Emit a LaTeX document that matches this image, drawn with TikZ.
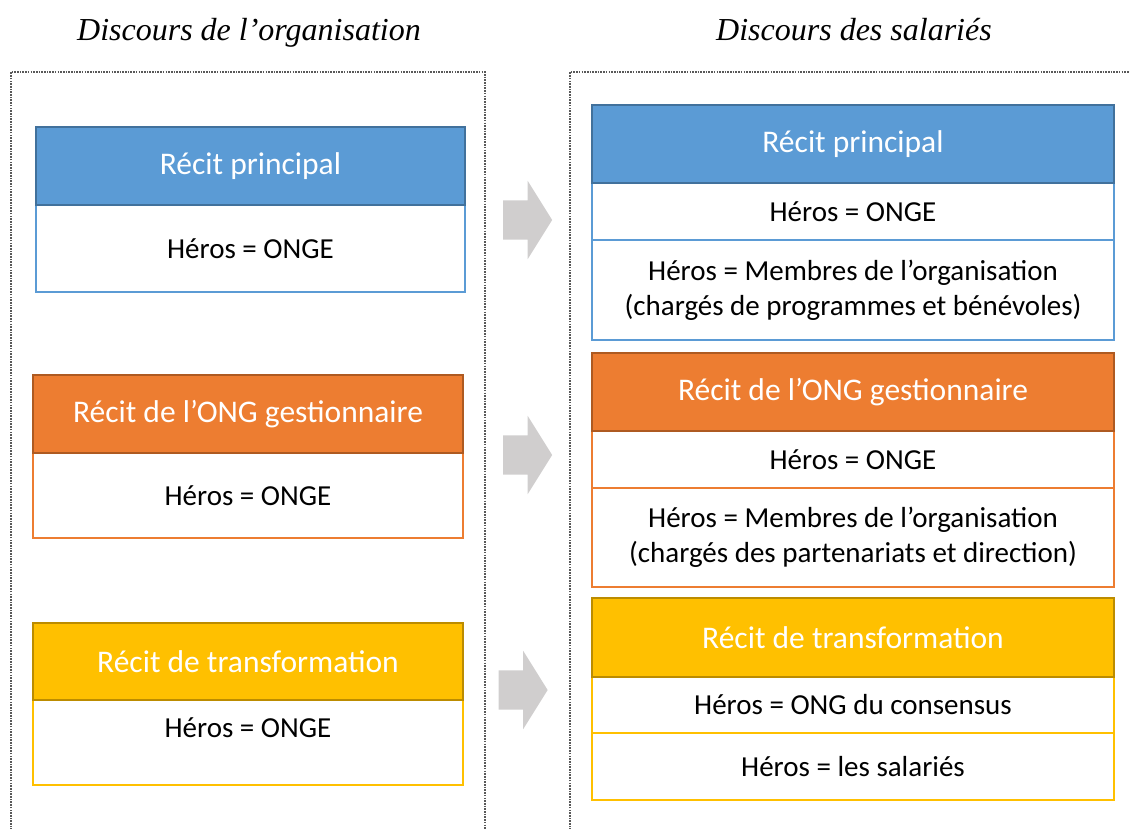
\documentclass[tikz,border=0pt]{standalone}
\usepackage{fontspec}
\setmainfont{Carlito}
\newfontfamily\titlefont{Liberation Serif}
\usetikzlibrary{shapes.arrows}

\definecolor{bleu}{HTML}{5B9BD5}
\definecolor{bleuf}{HTML}{41719C}
\definecolor{orange}{HTML}{ED7D31}
\definecolor{orangef}{HTML}{AE5A21}
\definecolor{jaune}{HTML}{FFC000}
\definecolor{jaunef}{HTML}{BC8C00}
\definecolor{gris}{HTML}{D0CECE}

\tikzset{
	titre/.style = {font=\titlefont\itshape\fontsize{32}{36}\selectfont, anchor=base},
	cadre/.style = {gray!70!black, line width=1.4pt, dash pattern=on 1.6pt off 1.1pt},
	entete/.style = {draw=#1f, fill=#1, line width=2.5pt, text=white, inner sep=0pt,
		font=\fontsize{31.5}{36}\selectfont},
	corps/.style = {draw=#1, line width=1.8pt, fill=white, inner sep=0pt, align=center,
		font=\fontsize{29}{35}\selectfont},
	fleche/.style = {single arrow, fill=gris, inner xsep=0pt, inner ysep=19.5pt,
		minimum height=49pt, single arrow head extend=19.5pt,
		single arrow tip angle=116, single arrow head indent=0pt}
}

\begin{document}
\begin{tikzpicture}[x=1pt, y=-1pt]
	\useasboundingbox (0,0) rectangle (1130,828);

	% titres
	\node[titre] (t1) at (249,40) {Discours de l’organisation};
	\node[titre] (t2) at (854,40) {Discours des salariés};

	% cadres pointilles
	\draw[cadre] (11,830) -- (11,72) -- (485,72) -- (485,830);
	\draw[cadre] (570,830) -- (570,72) -- (1132,72);

	% discours de l'organisation
	\node[corps=bleu, minimum width=429pt, minimum height=87pt] (lb1) at (250.5,248.5) {Héros = ONGE};
	\node[entete=bleu, minimum width=429pt, minimum height=78pt] (lb) at (250.5,166) {Récit principal};

	\node[corps=orange, minimum width=430pt, minimum height=85pt] (lo1) at (248,495.5) {Héros = ONGE};
	\node[entete=orange, minimum width=430pt, minimum height=78pt] (lo) at (248,414) {Récit de l’ONG gestionnaire};

	\node[corps=jaune, minimum width=430pt, minimum height=85pt] (lj1) at (248,742.5) {};
	\node[font=\fontsize{29}{35}\selectfont] (lj1t) at (248,728) {Héros = ONGE};
	\node[entete=jaune, minimum width=430pt, minimum height=77pt] (lj) at (248,661.5) {Récit de transformation};

	% discours des salaries
	\node[corps=bleu, minimum width=522pt, minimum height=57pt] (rb1) at (853,211.5) {Héros = ONGE};
	\node[corps=bleu, minimum width=522pt, minimum height=100pt] (rb2) at (853,290)
		{Héros = Membres de l’organisation\\(chargés de programmes et bénévoles)};
	\node[entete=bleu, minimum width=522pt, minimum height=78pt] (rb) at (853,144) {Récit principal};

	\node[corps=orange, minimum width=522pt, minimum height=57pt] (ro1) at (853,459.5) {Héros = ONGE};
	\node[corps=orange, minimum width=522pt, minimum height=99pt] (ro2) at (853,537.5)
		{Héros = Membres de l’organisation\\(chargés des partenariats et direction)};
	\node[entete=orange, minimum width=522pt, minimum height=78pt] (ro) at (853,392) {Récit de l’ONG gestionnaire};

	\node[corps=jaune, minimum width=522pt, minimum height=56pt] (rj1) at (853,705) {Héros = ONG du consensus};
	\node[corps=jaune, minimum width=522pt, minimum height=67pt] (rj2) at (853,766.5) {Héros = les salariés};
	\node[entete=jaune, minimum width=522pt, minimum height=79pt] (rj) at (853,637.5) {Récit de transformation};

	% fleches
	\node[fleche] (f1) at (521.5,220) {};
	\node[fleche] (f2) at (521.5,455) {};
	\node[fleche] (f3) at (517,690) {};
\end{tikzpicture}
\end{document}
